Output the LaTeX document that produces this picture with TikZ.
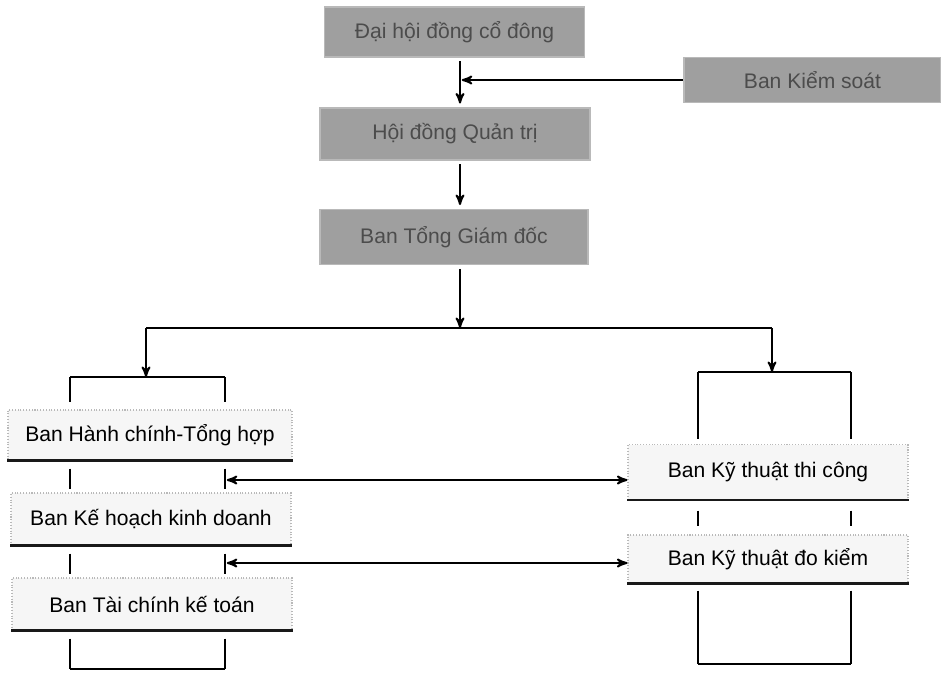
\documentclass[tikz,border=0pt]{standalone}
\usepackage{fontspec}
\setmainfont{Liberation Sans}
\usetikzlibrary{arrows, positioning}
\tikzset{>=stealth',
    every picture/.style={line width=1.1pt},
    hoi/.style={rectangle,fill=gray!75,draw=gray!55,text=black!70,
        minimum width=5.2cm,minimum height=1cm,font=\fontsize{12}{14}\selectfont},
    ban/.style={rectangle,fill=gray!7,draw=gray!55,densely dotted,line width=0.6pt,
        minimum width=5.6cm,minimum height=1.04cm,font=\fontsize{12}{14}\selectfont,
        append after command={(\tikzlastnode.south west) edge[solid,line width=1.4pt,draw=gray!20!black] (\tikzlastnode.south east)}},
    textnode/.style={}}
\begin{document}
\begin{tikzpicture}
\useasboundingbox (0,0) rectangle (18.82,-13.44);
% upper part
\node[hoi] (dhd) at (9.09,-0.64) {Đại hội đồng cổ đông};
\node[hoi,minimum width=5.14cm,minimum height=0.9cm] (bks) at (16.25,-1.6) {Ban Kiểm soát};
\node[hoi,minimum width=5.4cm,minimum height=1.04cm] (hdqt) at (9.1,-2.68) {Hội đồng Quản trị};
\node[hoi,minimum width=5.36cm,minimum height=1.1cm] (btgd) at (9.08,-4.74) {Ban Tổng Giám đốc};
% departments
\node[ban,minimum width=5.68cm,minimum height=1cm] (hc) at (3.0,-8.7) {Ban Hành chính-Tổng hợp};
\node[ban] (kh) at (3.02,-10.38) {Ban Kế hoạch kinh doanh};
\node[ban] (tc) at (3.04,-12.08) {Ban Tài chính kế toán};
\node[ban,minimum height=1.1cm] (ktc) at (15.36,-9.44) {Ban Kỹ thuật thi công};
\node[ban,minimum height=0.96cm] (dk) at (15.36,-11.18) {Ban Kỹ thuật đo kiểm};
\coordinate (truc) at (9.2,0);
\coordinate (re) at (9.2,-6.56);
\coordinate (reT) at (2.92,-6.56);
\coordinate (reP) at (15.44,-6.56);
\coordinate (xa) at (1.4,-7.54);
\coordinate (xb) at (4.5,-7.54);
\coordinate (xc) at (13.96,-7.44);
\coordinate (xd) at (17.02,-7.44);
\draw[->,shorten <=2pt,shorten >=2pt] (dhd.south -| truc) -- (hdqt.north -| truc);
\draw[->,shorten >=1pt] (bks.west) -- (bks.west -| truc);
\draw[->,shorten <=2pt,shorten >=2pt] (hdqt.south -| truc) -- (btgd.north -| truc);
\draw[->,shorten <=2pt] (btgd.south -| truc) -- (re);
\draw (reT) -- (reP);
\draw[->] (reT) -- (reT |- xa);
\draw[->] (reP) -- (reP |- xc);
% left column
\draw (xa) -- (xb);
\foreach \x in {xa,xb} {
    \draw (\x) -- ([yshift=0.14cm]hc.north -| \x);
    \draw ([yshift=-0.16cm]hc.south -| \x) -- ([yshift=0.06cm]kh.north -| \x);
    \draw ([yshift=-0.16cm]kh.south -| \x) -- ([yshift=0.06cm]tc.north -| \x);
    \draw ([yshift=-0.16cm]tc.south -| \x) -- ([yshift=-0.76cm]tc.south -| \x);
}
\draw ([yshift=-0.76cm]tc.south -| xa) -- ([yshift=-0.76cm]tc.south -| xb);
% right column
\draw (xc) -- (xd);
\foreach \x in {xc,xd} {
    \draw (\x) -- ([yshift=0.09cm]ktc.north -| \x);
    \draw ([yshift=-0.21cm]ktc.south -| \x) -- ([yshift=0.16cm]dk.north -| \x);
    \draw ([yshift=-0.14cm]dk.south -| \x) -- ([yshift=-1.6cm]dk.south -| \x);
}
\draw ([yshift=-1.6cm]dk.south -| xc) -- ([yshift=-1.6cm]dk.south -| xd);
% links between columns
\draw[<->,shorten <=1pt] ([yshift=-0.16cm]ktc.west -| xb) -- ([yshift=-0.16cm]ktc.west);
\draw[<->,shorten <=1pt] ([yshift=-0.08cm]dk.west -| xb) -- ([yshift=-0.08cm]dk.west);
\end{tikzpicture}
\end{document}
